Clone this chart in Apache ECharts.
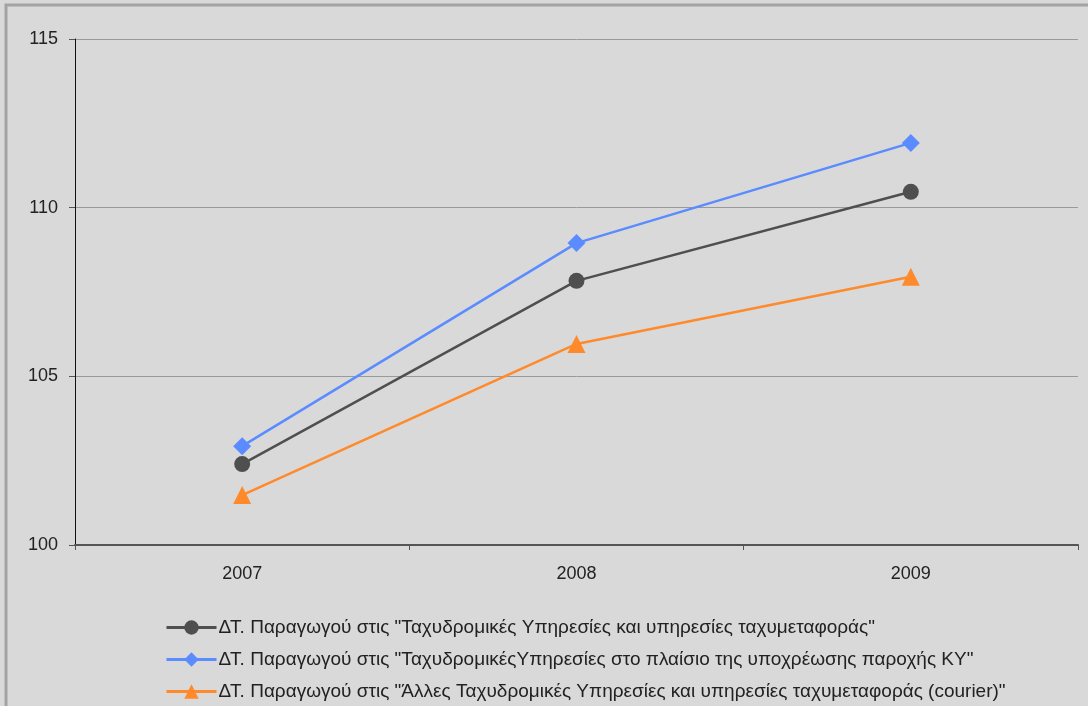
<!DOCTYPE html>
<html><head><meta charset="utf-8">
<script src="https://cdn.jsdelivr.net/npm/echarts@6/dist/echarts.min.js"></script>
<style>html,body{margin:0;padding:0;background:#d9d9d9}#c{width:1088px;height:706px}</style>
</head><body><div id="c"></div>
<script>
const categories = ['2007', '2008', '2009'];
const seriesNames = [
  'ΔΤ. Παραγωγού στις "Ταχυδρομικές Υπηρεσίες και υπηρεσίες ταχυμεταφοράς"',
  'ΔΤ. Παραγωγού στις "ΤαχυδρομικέςΥπηρεσίες στο πλαίσιο της υποχρέωσης παροχής ΚΥ"',
  'ΔΤ. Παραγωγού στις "Άλλες Ταχυδρομικές Υπηρεσίες και υπηρεσίες ταχυμεταφοράς (courier)"'
];
const postalAll = [102.4, 107.83, 110.47];
const universalService = [102.93, 108.95, 111.92];
const courier = [101.48, 105.96, 107.95];
const yTicks = [100, 105, 110, 115];

const colors = ['#4f4f4f', '#5a8cff', '#ff8a2b'];
const symbols = ['circle', 'diamond', 'triangle'];
const sizes = [16, 18, 18];
const dataSets = [postalAll, universalService, courier];

const chart = echarts.init(document.getElementById('c'));
chart.setOption({
  backgroundColor: '#d9d9d9',
  animation: false,
  textStyle: { fontFamily: 'Liberation Sans, Arial, sans-serif' },
  graphic: [{
    type: 'rect', shape: { x: 6, y: 5, width: 1090, height: 710 },
    style: { fill: 'none', stroke: '#a3a3a3', lineWidth: 3 }, silent: true
  }],
  grid: { left: 75, top: 39, width: 1003, height: 506, containLabel: false },
  xAxis: {
    type: 'category', data: categories, boundaryGap: true,
    axisLine: { lineStyle: { color: '#555', width: 2 } },
    axisTick: { show: true, length: 5, lineStyle: { color: '#555' } },
    axisLabel: { color: '#222', fontSize: 18, margin: 20 },
    splitLine: { show: false }
  },
  yAxis: {
    type: 'value', min: yTicks[0], max: yTicks[yTicks.length - 1], interval: 5,
    axisLine: { show: true, lineStyle: { color: '#111', width: 1 } },
    axisTick: { show: true, length: 6, lineStyle: { color: '#555' } },
    axisLabel: { color: '#222', fontSize: 18, margin: 17 },
    splitLine: { show: true, lineStyle: { color: '#9a9a9a', width: 1 } }
  },
  legend: {
    orient: 'vertical', left: 165, top: 618, itemGap: 13, padding: 0,
    itemWidth: 50, itemHeight: 18,
    lineStyle: { width: 3 },
    textStyle: { color: '#222', fontSize: 19, padding: [0, 0, 0, -3] },
    data: seriesNames
  },
  series: dataSets.map((d, i) => ({
    name: seriesNames[i], type: 'line', data: d,
    symbol: symbols[i], symbolSize: sizes[i],
    lineStyle: { color: colors[i], width: 2.5 },
    itemStyle: { color: colors[i] }
  }))
});
</script>
</body></html>
